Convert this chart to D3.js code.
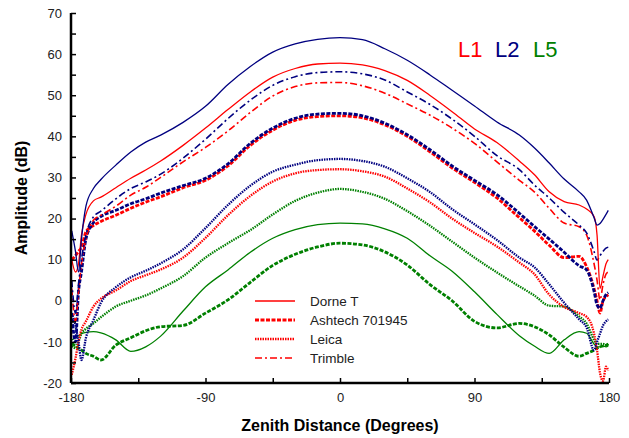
<!DOCTYPE html>
<html>
<head>
<meta charset="utf-8">
<script src="https://cdn.jsdelivr.net/npm/d3@7"></script>
<style>
  body { margin: 0; background: #fff; }
  text { font-family: Arial, "Liberation Sans", sans-serif; }
</style>
</head>
<body>
<div id="chart"></div>
<script>
// zenith distance grid (degrees)
var angles = [-179.5, -177, -175, -173, -170, -165, -160, -150, -140, -130, -120, -105, -90, -75, -60, -45, -30, -15,
  0, 15, 30, 45, 60, 75, 90, 105, 120, 130, 140, 150, 160, 165, 170, 172, 174, 176, 178, 179.5]

// amplitude (dB) per antenna / frequency
var dorneL2 = [17, 12, 7, 15, 23, 27.3, 29.5, 33, 36.2, 38.6, 40.3, 43.4, 47.3, 52.6, 57, 60.5, 62.5, 63.6,
  64, 63.5, 61.3, 58.5, 55, 51.2, 47.4, 43.5, 40.3, 37.2, 33.5, 29.6, 26.5, 24.5, 20.2, 18.4, 18.8, 19.8, 21, 22]
var dorneL1 = [10, 7, 9, 16, 21, 24.3, 25.2, 27.5, 29.8, 31.8, 34, 37.8, 42, 46.5, 50.8, 54.4, 56.5, 57.6,
  57.8, 57.4, 56, 53.6, 50, 46, 41.8, 38.5, 34, 30.7, 26.5, 24.1, 23.3, 22.3, 20.5, 16, 3, 6, 9, 10]
var dorneL5 = [-9.5, -9, -8.5, -8, -7.7, -7.5, -7.8, -9.5, -12.3, -11.2, -8.6, -2.5, 3.4, 7.5, 11.8, 15.2, 17.3, 18.5,
  18.9, 18.7, 17.5, 15.2, 11, 7.2, 2.2, -3.3, -8.5, -11, -12.8, -9.5, -7.5, -7.9, -10.5, -11.2, -11.2, -11, -11.2, -11]
var trimbleL2 = [5, -3, 4, 10, 16, 20.4, 21.8, 24.8, 27.3, 28.9, 30.8, 34.7, 39.3, 44.3, 48.8, 52.4, 54.5, 55.5,
  55.7, 55.2, 53.7, 50.8, 47.8, 44.2, 40, 35.3, 31.9, 28.2, 25, 21.5, 18.4, 16.5, 12, 9.9, 11, 12, 12.8, 13]
var trimbleL1 = [3, -5, 2, 9, 15, 19.6, 20.8, 23, 25.7, 27.6, 30, 33.8, 37.3, 41.3, 45.8, 49.8, 52.1, 53,
  53.1, 52.3, 50.5, 47.9, 45.2, 42, 38.3, 33.8, 29.3, 26.5, 22.5, 18.9, 18, 16, 9, 5, 0.2, 4, 6.5, 7]
var ashtechL2 = [-3, -10, 2, 7, 15, 19, 20.5, 22, 23.6, 24.8, 26.2, 28, 29.8, 33.3, 38.3, 42, 44.4, 45.4,
  45.6, 45, 43.2, 40.4, 36.8, 32.8, 29.3, 25.8, 21.3, 18.1, 15, 11.8, 8.5, 7.5, 2.3, -1, -1.8, 0, 1.5, 2]
var ashtechL1 = [10, 11, 12, 13, 16.8, 18.3, 19.3, 20.8, 22.5, 24, 25.3, 27.5, 29.3, 32.8, 37.8, 41.5, 43.9, 44.8,
  45, 44.5, 42.8, 40, 36.3, 32.3, 28.8, 25, 20.2, 17, 13.5, 10.5, 10.8, 8.3, 3, 0, -3, 0, 1, 1.5]
var ashtechL5 = [-10.4, -11, -11.5, -12, -12.8, -13.5, -14.4, -10.8, -9, -7.3, -6.3, -6, -3, 0.2, 4.5, 8.6, 11.3, 13.1,
  14, 13.6, 11.9, 8.7, 4, 0, -5, -6.6, -5.5, -6.3, -8.3, -11.3, -13.5, -12.8, -12, -11.5, -11.2, -11, -10.8, -10.5]
var leicaL2 = [-3, -6, -10, -14.4, -9, -4.7, -0.5, 3.3, 5.7, 7.3, 9.1, 12.5, 17.7, 23.3, 28, 31.4, 33.1, 34.2,
  34.5, 34, 32.6, 29.8, 26.5, 22.3, 18.6, 14.8, 10.5, 8.2, 4, -0.5, -4.5, -6.5, -12, -10, -8, -6, -5, -4.5]
var leicaL1 = [-18, -14, -10, -7, -5, -1.4, 0.5, 2.5, 4.8, 6.2, 7.6, 10.5, 15.3, 20.8, 25.5, 29, 31, 31.8,
  32, 31.5, 30.2, 27.3, 24, 20, 16.5, 13.2, 9.3, 6.5, 1.5, -1.5, -3, -3.9, -8, -12, -17.6, -19.5, -16, -17]
var leicaL5 = [-11, -11.5, -10, -8, -6.8, -5.5, -4, -1.4, 0, 1.3, 3, 6, 10.5, 14, 17.2, 21, 24.3, 26.3,
  27.2, 26.5, 24.8, 21.8, 18.3, 14.4, 10.5, 6.9, 3.5, 1.3, -1.2, -1.4, -3.8, -5.5, -9.5, -10.5, -10.5, -10.5, -10.8, -10.5]

var antennas = ['Dorne T', 'Ashtech 701945', 'Leica', 'Trimble']
var bands = ['L1', 'L2', 'L5']
var xTicks = [-180, -90, 0, 90, 180]
var yTicks = [-20, -10, 0, 10, 20, 30, 40, 50, 60, 70]

var series = [
  { antenna: 'Dorne T', band: 'L5', values: dorneL5 },
  { antenna: 'Ashtech 701945', band: 'L5', values: ashtechL5 },
  { antenna: 'Leica', band: 'L5', values: leicaL5 },
  { antenna: 'Leica', band: 'L1', values: leicaL1 },
  { antenna: 'Leica', band: 'L2', values: leicaL2 },
  { antenna: 'Ashtech 701945', band: 'L1', values: ashtechL1 },
  { antenna: 'Ashtech 701945', band: 'L2', values: ashtechL2 },
  { antenna: 'Trimble', band: 'L1', values: trimbleL1 },
  { antenna: 'Trimble', band: 'L2', values: trimbleL2 },
  { antenna: 'Dorne T', band: 'L1', values: dorneL1 },
  { antenna: 'Dorne T', band: 'L2', values: dorneL2 }
]

var W = 629, H = 438
var margin = { top: 13, right: 20, bottom: 55, left: 71 }
var width = 609 - margin.left
var height = 383 - margin.top

var svg = d3.select('#chart').append('svg')
  .attr('width', W).attr('height', H)
var g = svg.append('g')
  .attr('transform', 'translate(' + margin.left + ',' + margin.top + ')')

var x = d3.scaleLinear().domain([-180, 180]).range([0, width])
var y = d3.scaleLinear().domain([-20, 70]).range([height, 0])

var color = d3.scaleOrdinal().domain(bands).range(['#ff0000', '#000080', '#008000'])
var styles = {
  'Dorne T': { w: 1.3, dash: null },
  'Ashtech 701945': { w: 2.8, dash: '4,1.5' },
  'Leica': { w: 2.3, dash: '1.5,1' },
  'Trimble': { w: 1.6, dash: '7,3,2,3' }
}

var line = d3.line()
  .x(function(d) { return x(d[0]) })
  .y(function(d) { return y(d[1]) })
  .curve(d3.curveMonotoneX)

g.selectAll('.curve')
  .data(series)
  .enter()
  .append('path')
  .attr('class', 'curve')
  .attr('fill', 'none')
  .attr('stroke', function(d) { return color(d.band) })
  .attr('stroke-width', function(d) { return styles[d.antenna].w })
  .attr('stroke-dasharray', function(d) { return styles[d.antenna].dash })
  .attr('d', function(d) { return line(angles.map(function(a, i) { return [a, d.values[i]] })) })

// axes
var xAxis = d3.axisBottom(x).tickValues(d3.range(-180, 181, 45))
  .tickSize(-5).tickPadding(10)
  .tickFormat(function(d) { return xTicks.indexOf(d) >= 0 ? d : '' })
var yAxis = d3.axisLeft(y).tickValues(d3.range(-20, 71, 5))
  .tickSize(-5).tickPadding(9)
  .tickFormat(function(d) { return yTicks.indexOf(d) >= 0 ? d : '' })

var gx = g.append('g').attr('transform', 'translate(0,' + height + ')').call(xAxis)
var gy = g.append('g').call(yAxis)
;[gx, gy].forEach(function(a) {
  a.select('.domain').attr('stroke', '#000').attr('stroke-width', 2.5)
  a.selectAll('.tick line').attr('stroke', '#000').attr('stroke-width', 1.5)
  a.selectAll('.tick text').attr('fill', '#222').style('font-size', '13px')
    .style('font-family', 'Arial, "Liberation Sans", sans-serif')
})
gx.select('.domain').attr('d', 'M0,0H' + width)
gy.select('.domain').attr('d', 'M0,' + height + 'V0')

// axis titles
svg.append('text')
  .attr('x', 340).attr('y', 431)
  .attr('text-anchor', 'middle')
  .style('font-size', '16px').style('font-weight', 'bold')
  .text('Zenith Distance (Degrees)')
svg.append('text')
  .attr('transform', 'translate(27,198) rotate(-90)')
  .attr('text-anchor', 'middle')
  .style('font-size', '16px').style('font-weight', 'bold')
  .text('Amplitude (dB)')

// band labels
var bandX = [458, 495, 533]
svg.selectAll('.band')
  .data(bands)
  .enter()
  .append('text')
  .attr('x', function(d, i) { return bandX[i] })
  .attr('y', 57)
  .attr('fill', function(d) { return color(d) })
  .style('font-size', '22px')
  .text(function(d) { return d })

// legend
var legend = svg.selectAll('.legend')
  .data(antennas)
  .enter()
  .append('g')
  .attr('transform', function(d, i) { return 'translate(255,' + (301 + i * 19) + ')' })
legend.append('line')
  .attr('x1', 0).attr('x2', 40)
  .attr('stroke', '#ff0000')
  .attr('stroke-width', function(d) { return styles[d].w })
  .attr('stroke-dasharray', function(d) { return styles[d].dash })
legend.append('text')
  .attr('x', 55).attr('y', 5)
  .attr('fill', '#222')
  .style('font-size', '13.5px')
  .text(function(d) { return d })
</script>
</body>
</html>
